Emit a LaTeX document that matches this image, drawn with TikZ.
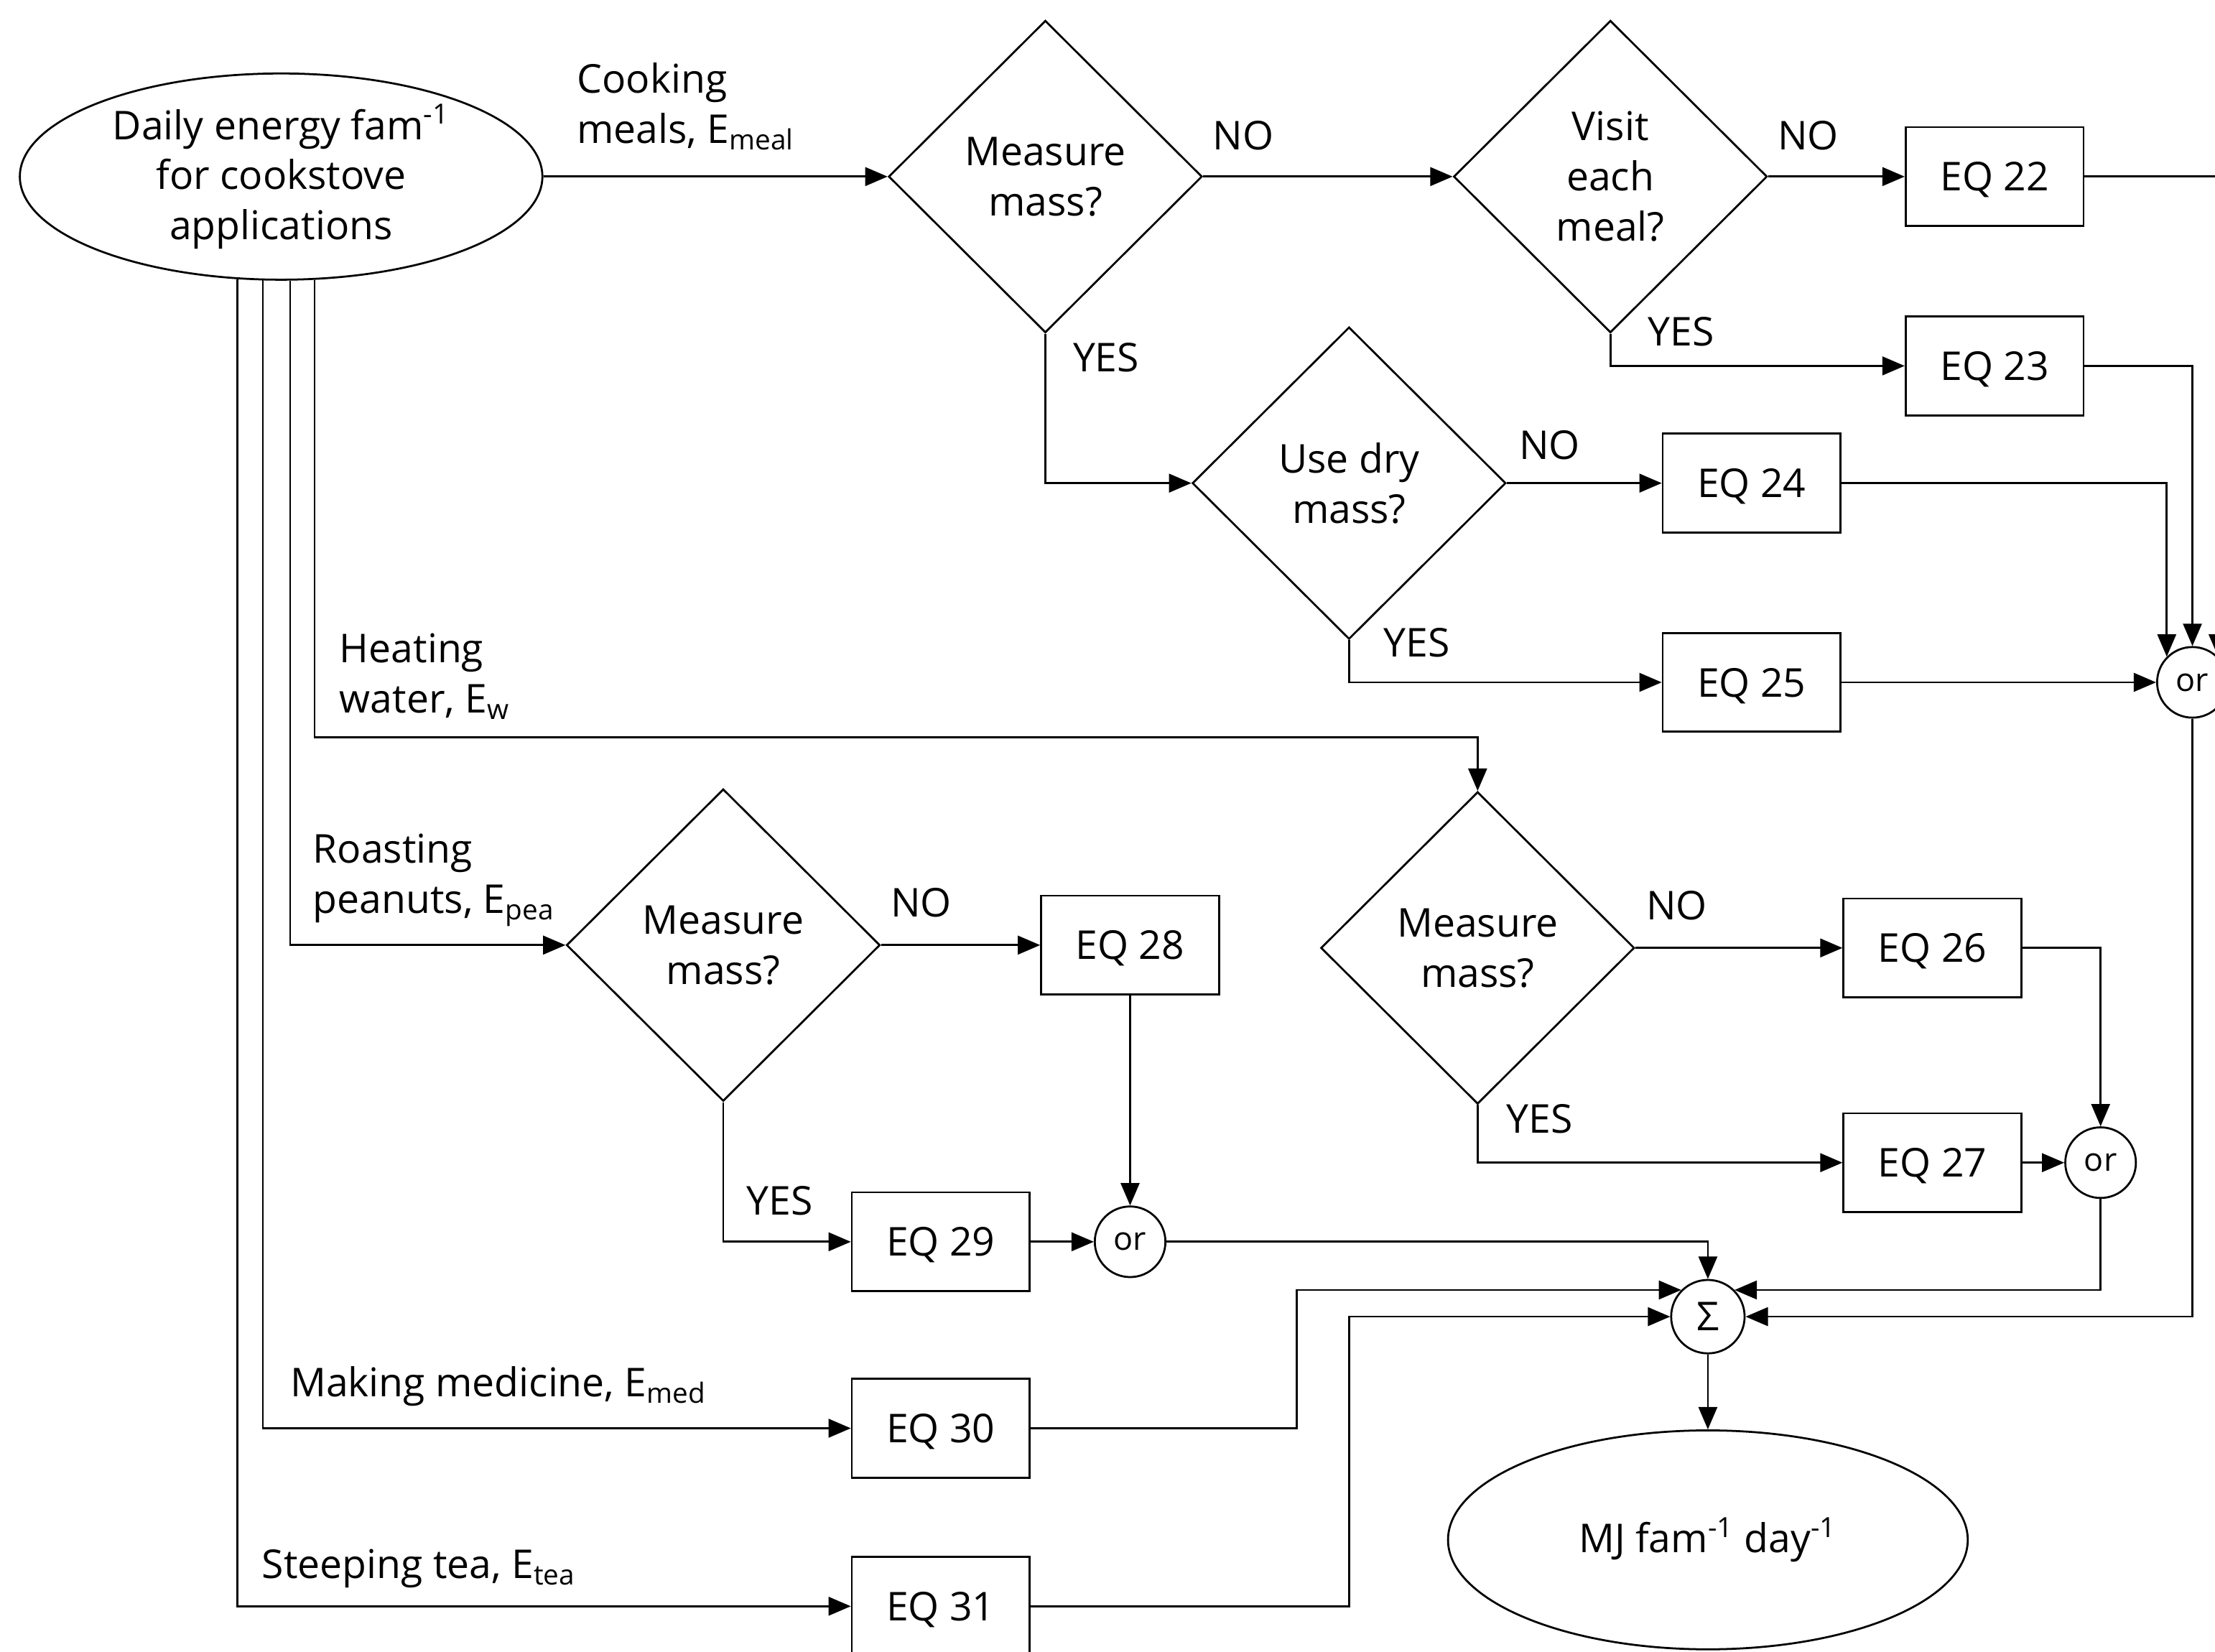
\documentclass[tikz,border=0pt]{standalone}
\usepackage{fontspec}
\setmainfont{Open Sans}
\usepackage{tikz}
\usetikzlibrary{arrows.meta,shapes.geometric,positioning}

\tikzset{
  decision/.style={diamond, draw, align=center, minimum width=4.44cm, minimum height=4.42cm, inner sep=0pt},
  eqbox/.style={rectangle, draw, minimum width=2.52cm, minimum height=1.4cm, inner sep=0pt, text depth=0pt},
  gate/.style={circle, draw, minimum size=1cm, inner sep=0pt},
  terminal/.style={ellipse, draw, align=center, inner sep=0pt},
  answer/.style={inner sep=1pt},
  branch/.style={align=left, inner sep=1pt, anchor=north west}
}

\begin{document}
\begin{tikzpicture}[x=0.02cm,y=-0.02cm,>={Triangle[length=9pt,width=7.5pt]},line width=0.8pt,
    font=\fontsize{16}{20.2}\selectfont]
  \useasboundingbox (0,0) rectangle (1568,1169);
  \clip (0,0) rectangle (1568,1169);

  % start and end
  \node[terminal, minimum width=7.4cm, minimum height=2.92cm] (start) at (199,125)
       {Daily energy fam\textsuperscript{-1}\\for cookstove\\applications};
  \node[terminal, minimum width=7.36cm, minimum height=3.1cm] (mj) at (1209,1090)
       {MJ fam\textsuperscript{-1} day\textsuperscript{-1}};

  % cooking meals
  \node[decision] (d1) at (740,125) {Measure\\mass?};
  \node[decision] (d2) at (1140,125) {Visit\\each\\meal?};
  \node[eqbox] (eq22) at (1412,125) {EQ 22};
  \node[eqbox] (eq23) at (1412,259) {EQ 23};
  \node[decision] (d3) at (955,342) {Use dry\\mass?};
  \node[eqbox] (eq24) at (1240,342) {EQ 24};
  \node[eqbox] (eq25) at (1240,483) {EQ 25};
  \node[gate, font=\fontsize{13}{15}\selectfont] (or1) at (1552,483) {or};

  % heating water
  \node[decision] (d4) at (1046,671) {Measure\\mass?};
  \node[eqbox] (eq26) at (1368,671) {EQ 26};
  \node[eqbox] (eq27) at (1368,823) {EQ 27};
  \node[gate, font=\fontsize{13}{15}\selectfont] (or2) at (1487,823) {or};

  % roasting peanuts
  \node[decision] (d5) at (512,669) {Measure\\mass?};
  \node[eqbox] (eq28) at (800,669) {EQ 28};
  \node[eqbox] (eq29) at (666,879) {EQ 29};
  \node[gate, font=\fontsize{13}{15}\selectfont] (or3) at (800,879) {or};

  % medicine, tea, sum
  \node[eqbox] (eq30) at (666,1011) {EQ 30};
  \node[eqbox] (eq31) at (666,1137) {EQ 31};
  \node[gate, minimum size=1.04cm] (sigma) at (1209,932) {Σ};

  % answers
  \node[answer] (no1) at (880,96) {NO};
  \node[answer] (no2) at (1280,96) {NO};
  \node[answer] (yes1) at (783,253) {YES};
  \node[answer] (yes2) at (1190,235) {YES};
  \node[answer] (no3) at (1097,315) {NO};
  \node[answer] (yes3) at (1003,455) {YES};
  \node[answer] (no4) at (1187,641) {NO};
  \node[answer] (yes4) at (1090,792) {YES};
  \node[answer] (no5) at (652,639) {NO};
  \node[answer] (yes5) at (552,850) {YES};

  % branch labels
  \node[branch] (lmeal) at (406,42) {Cooking\\meals, E\textsubscript{meal}};
  \node[branch] (lw) at (238,446) {Heating\\water, E\textsubscript{w}};
  \node[branch] (lpea) at (219,588) {Roasting\\peanuts, E\textsubscript{pea}};
  \node[branch] (lmed) at (203,965) {Making medicine, E\textsubscript{med}};
  \node[branch] (ltea) at (183,1094) {Steeping tea, E\textsubscript{tea}};

  \path[->] (start) edge (d1)
        (d1) edge (d2)
        (d2) edge (eq22)
        (d3) edge (eq24)
        (eq25) edge (or1)
        (d4) edge (eq26)
        (eq27) edge (or2)
        (d5) edge (eq28)
        (eq28) edge (or3)
        (eq29) edge (or3)
        (sigma) edge (mj);

  \draw[->] (eq22) -| (or1.45);
  \draw[->] (d2) |- (eq23);
  \draw[->] (eq23) -| (or1);
  \draw[->] (d1) |- (d3);
  \draw[->] (eq24) -| (or1.135);
  \draw[->] (d3) |- (eq25);
  \draw[->] (or1) |- (sigma);

  \draw[->] (start.288) -- (start.288 |- 0,522) -| (d4);
  \draw[->] (eq26) -| (or2);
  \draw[->] (d4) |- (eq27);
  \draw[->] (or2) |- (sigma.45);

  \draw[->] (start.275) |- (d5);
  \draw[->] (d5) |- (eq29);
  \draw[->] (or3) -| (sigma);

  \draw[->] (start.260) |- (eq30);
  \draw[->] (eq30) -- (eq30 -| 918,0) |- (sigma.135);
  \draw[->] (start.247) |- (eq31);
  \draw[->] (eq31) -- (eq31 -| 955,0) |- (sigma);
\end{tikzpicture}
\end{document}
